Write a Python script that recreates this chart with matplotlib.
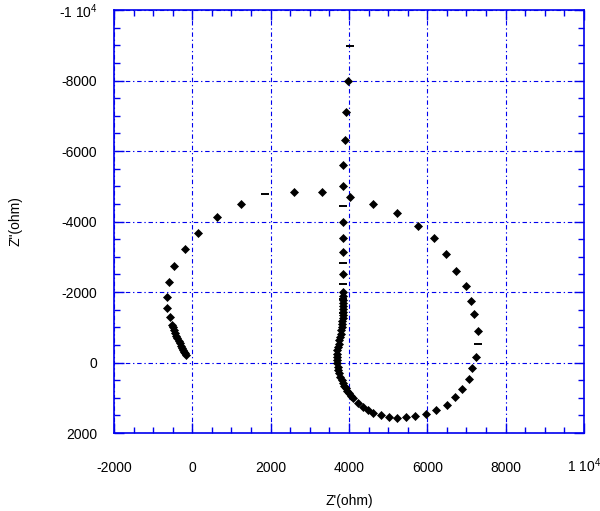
import numpy as np
import matplotlib.pyplot as plt
from matplotlib.ticker import MultipleLocator, FuncFormatter

plt.rcParams['font.family'] = ['Liberation Sans', 'DejaVu Sans']
plt.rcParams['mathtext.fontset'] = 'custom'
plt.rcParams['mathtext.rm'] = 'Liberation Sans'

# impedance points (diamonds)
z_re = [-150, -175, -200, -230, -260, -290, -320, -350, -380, -410, -440, -470, -500, -524,
        -580, -636, -636, -592, -457, -193, 157, 636, 1242, 2606, 3305, 4031, 4620, 5216,
        5762, 6171, 6478, 6727, 6982, 7110, 7195, 7289, 7253, 7151, 7059, 6880, 6708, 6495,
        6214, 5958, 5684, 5447, 5231, 5019, 4807, 4620,
        4480, 4350, 4220, 4100, 4040, 3995, 3950, 3911, 3875, 3842, 3810, 3783, 3755, 3732,
        3715, 3699, 3692, 3689, 3695, 3706, 3722, 3740, 3757, 3774, 3788, 3800, 3810, 3817,
        3826, 3835, 3842, 3842, 3848, 3852, 3852, 3852, 3852, 3852, 3852, 3852, 3852, 3852,
        3852, 3852, 3886, 3929, 3963]
z_im = [-220, -260, -300, -360, -420, -480, -550, -620, -690, -760, -840, -920, -1000, -1070,
        -1290, -1560, -1858, -2274, -2735, -3227, -3670, -4122, -4510, -4828, -4828, -4698,
        -4490, -4235, -3859, -3519, -3075, -2594, -2170, -1736, -1377, -896, -152, 151, 480,
        754, 989, 1198, 1357, 1453, 1510, 1555, 1575, 1546, 1498, 1424,
        1348, 1255, 1160, 1020, 950, 876, 800, 734, 660, 593, 500, 405, 310, 216,
        120, 27, -65, -160, -255, -350, -445, -539, -633, -727, -820, -916, -1010, -1105,
        -1190, -1275, -1355, -1434, -1515, -1595, -1690, -1784, -1880, -1996, -2510, -3140,
        -3530, -3984, -5000, -5610, -6320, -7120, -8000]

# second series (dash markers)
dash_re = [1864, 4031, 3852, 3852, 3852, 3852, 3852, 7289]
dash_im = [-4784, -8981, -4453, -2825, -2230, -1805, -1410, -520]

fig = plt.figure(figsize=(6, 5.11), dpi=100)
ax = fig.add_axes([0.19, 0.1526, 0.7833, 0.8278])

ax.plot(z_re, z_im, 'D', color='black', ms=4.2, mew=0.5, linestyle='none')
ax.plot(dash_re, dash_im, '_', color='black', ms=6, mew=1.4, linestyle='none')

ax.set_xlim(-2000, 10000)
ax.set_ylim(2000, -10000)

def fmt(v, pos):
    if abs(v) == 10000:
        return ('-' if v < 0 else '') + r'1 10$^{4}$'
    return '%d' % v

ax.xaxis.set_major_locator(MultipleLocator(2000))
ax.yaxis.set_major_locator(MultipleLocator(2000))
ax.xaxis.set_minor_locator(MultipleLocator(500))
ax.yaxis.set_minor_locator(MultipleLocator(500))
ax.xaxis.set_major_formatter(FuncFormatter(fmt))
ax.yaxis.set_major_formatter(FuncFormatter(fmt))

blue = '#0000ee'
ax.grid(True, which='major', color=blue, linewidth=0.8, linestyle=(0, (4, 2.5, 1.2, 2.5)))
ax.set_axisbelow(True)
for s in ax.spines.values():
    s.set_color(blue)
    s.set_linewidth(1.2)
ax.tick_params(which='both', direction='in', color=blue, top=True, right=True,
               labelsize=10, labelcolor='black')
ax.tick_params(which='major', length=7, width=1)
ax.tick_params(which='minor', length=4, width=1)
ax.tick_params(axis='x', which='major', pad=28)
ax.tick_params(axis='y', which='major', pad=12)

fig.canvas.draw()
for lab in ax.get_xticklabels():
    lab.set_verticalalignment('baseline')

ax.set_xlabel("Z'(ohm)", fontsize=10)
ax.xaxis.set_label_coords(0.5, -0.145)
ax.set_ylabel('Z"(ohm)', fontsize=10, labelpad=26)

plt.savefig('out.png', dpi=100)
